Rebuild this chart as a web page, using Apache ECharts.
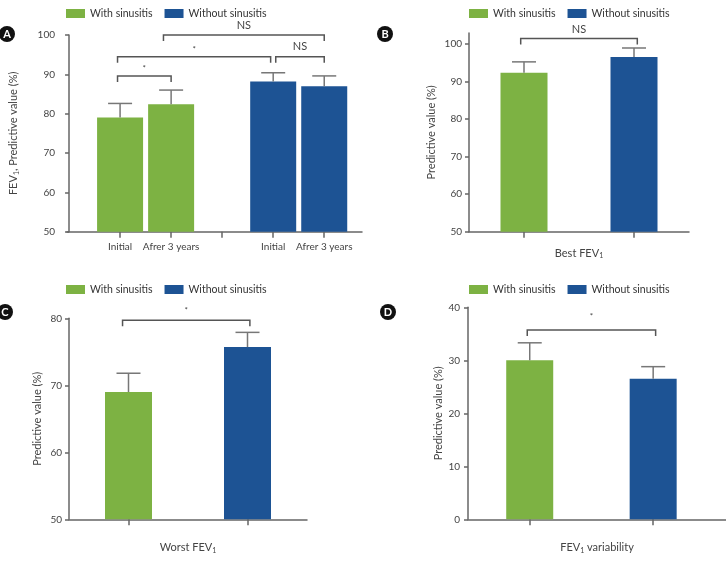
<!DOCTYPE html>
<html>
<head>
<meta charset="utf-8">
<script src="https://cdn.jsdelivr.net/npm/echarts@6/dist/echarts.min.js"></script>
<style>
  html, body { margin: 0; padding: 0; background: #fff; }
  #chart { width: 726px; height: 561px; }
</style>
</head>
<body>
<div id="chart"></div>
<script>
const seriesNames = ['With sinusitis', 'Without sinusitis'];

// panel A: FEV1 initial vs after 3 years
const aTickLabels = ['Initial', 'Afrer 3 years', '', 'Initial', 'Afrer 3 years'];
const aWithPos = [1, 2];
const aWithMean = [79.0, 82.4];
const aWithUpper = [82.6, 86.0];
const aWithoutPos = [4, 5];
const aWithoutMean = [88.2, 87.0];
const aWithoutUpper = [90.4, 89.6];
// [from, to, height, label]
const aBrackets = [[0.95, 2, 89.6, '*'], [0.95, 3.95, 94.5, '*'], [4.05, 5, 94.5, 'NS'], [1.85, 5, 100, 'NS']];

// panel B: best FEV1
const bWithMean = [92.4];
const bWithUpper = [95.3];
const bWithoutMean = [96.6];
const bWithoutUpper = [99.0];
const bBrackets = [[0.97, 2.03, 101.5, 'NS']];

// panel C: worst FEV1
const cWithMean = [69.0];
const cWithUpper = [71.8];
const cWithoutMean = [75.7];
const cWithoutUpper = [77.9];
const cBrackets = [[0.95, 2.02, 79.7, '*']];

// panel D: FEV1 variability
const dWithMean = [30.0];
const dWithUpper = [33.3];
const dWithoutMean = [26.5];
const dWithoutUpper = [28.8];
const dBrackets = [[0.98, 2.02, 35.7, '*']];

const GREEN = '#7db243';
const BLUE = '#1d5394';
const AXIS = '#666';
const TXT = '#444';
const FONT = 'Lato, "Liberation Sans", sans-serif';

const chart = echarts.init(document.getElementById('chart'));

const subRich = {
  a: { fontSize: 11, color: TXT, fontFamily: FONT },
  s: { fontSize: 7, color: TXT, fontFamily: FONT, verticalAlign: 'bottom', padding: [6, 0, 0, 0] }
};

function zip(xs, ys) { return xs.map((x, i) => [x, ys[i]]); }

function barSeries(name, idx, color, pos, vals, width) {
  return {
    type: 'bar', name: name, xAxisIndex: idx, yAxisIndex: idx,
    barWidth: width, barGap: '-100%',
    itemStyle: { color: color },
    data: zip(pos, vals)
  };
}

function errSeries(idx, pos, means, uppers) {
  return {
    type: 'custom', xAxisIndex: idx, yAxisIndex: idx, z: 5, silent: true,
    data: pos.map((x, i) => [x, means[i], uppers[i]]),
    encode: { x: 0, y: [1, 2] },
    renderItem: (params, api) => {
      const p0 = api.coord([api.value(0), api.value(1)]);
      const p1 = api.coord([api.value(0), api.value(2)]);
      const st = { stroke: '#777', lineWidth: 1.5 };
      return { type: 'group', children: [
        { type: 'line', shape: { x1: p0[0], y1: p0[1], x2: p1[0], y2: p1[1] }, style: st },
        { type: 'line', shape: { x1: p1[0] - 12, y1: p1[1], x2: p1[0] + 12, y2: p1[1] }, style: st }
      ]};
    }
  };
}

function bracketSeries(idx, list, gap) {
  return {
    type: 'custom', xAxisIndex: idx, yAxisIndex: idx, z: 6, silent: true, clip: false,
    data: list.map(b => [b[0], b[1], b[2]]),
    encode: { x: [0, 1], y: 2 },
    renderItem: (params, api) => {
      const lbl = list[params.dataIndex][3];
      const a = api.coord([api.value(0), api.value(2)]);
      const b = api.coord([api.value(1), api.value(2)]);
      return { type: 'group', children: [
        { type: 'polyline',
          shape: { points: [[a[0], a[1] + 6], [a[0], a[1]], [b[0], b[1]], [b[0], b[1] + 6]] },
          style: { stroke: '#555', lineWidth: 1.5, fill: null } },
        { type: 'text', x: (a[0] + b[0]) / 2, y: a[1] - (lbl === '*' ? gap - 3 : gap),
          style: { text: lbl, fill: TXT, fontSize: lbl === '*' ? 8 : 11, fontFamily: FONT,
                   align: 'center', verticalAlign: 'middle' } }
      ]};
    }
  };
}

function xAxis(idx, min, max, ticks, labels, labelFn, name, nameGap) {
  return {
    type: 'value', gridIndex: idx, min: min, max: max,
    splitLine: { show: false },
    axisLine: { lineStyle: { color: AXIS, width: 1.5 } },
    axisTick: { show: true, length: 6, lineStyle: { color: AXIS, width: 1.5 }, customValues: ticks },
    axisLabel: { show: true, customValues: labels, formatter: labelFn, color: TXT, fontSize: 10,
                 fontFamily: FONT, margin: 10 },
    name: name, nameLocation: 'middle', nameGap: nameGap,
    nameTextStyle: { rich: subRich }
  };
}

function yAxis(idx, min, max, ticks, name, nameGap, margin) {
  return {
    type: 'value', gridIndex: idx, min: min, max: max,
    splitLine: { show: false },
    axisLine: { show: true, lineStyle: { color: AXIS, width: 1.5 } },
    axisTick: { show: true, length: 4, lineStyle: { color: AXIS, width: 1.5 }, customValues: ticks },
    axisLabel: { customValues: ticks, color: TXT, fontSize: 10, fontFamily: FONT, margin: margin },
    name: name, nameLocation: 'middle', nameGap: nameGap,
    nameTextStyle: { rich: subRich }
  };
}

function legend(left, top) {
  return {
    data: seriesNames, left: left, top: top, icon: 'rect', padding: 0,
    itemWidth: 19, itemHeight: 9, itemGap: 12, selectedMode: false,
    textStyle: { color: '#333', fontSize: 10.5, fontFamily: FONT }
  };
}

function panelLetter(letter, cx, cy) {
  return { type: 'group', children: [
    { type: 'circle', shape: { cx: cx, cy: cy, r: 8 }, style: { fill: '#111' } },
    { type: 'text', x: cx, y: cy + 0.5, style: { text: letter, fill: '#fff', fontSize: 11, fontWeight: 'bold',
      fontFamily: FONT, align: 'center', verticalAlign: 'middle' } }
  ]};
}

const aLabelAt = v => aTickLabels[Math.round(v) - 1] || '';

const option = {
  animation: false,
  backgroundColor: '#fff',
  legend: [legend(66, 8), legend(469, 8), legend(66, 284), legend(469, 284)],
  grid: [
    { left: 67, width: 295, top: 35, height: 196.7 },
    { left: 469, width: 220, top: 33, height: 198.7 },
    { left: 69, width: 238, top: 318.3, height: 201 },
    { left: 468, width: 258, top: 307.3, height: 212 }
  ],
  xAxis: [
    xAxis(0, -0.04, 5.74, [1, 2, 3, 4, 5], [1, 2, 4, 5], aLabelAt, '', 0),
    xAxis(1, 0.5, 2.5, [1, 2], [], null, '{a|Best FEV}{s|1}', 15),
    xAxis(2, 0.5, 2.5, [1, 2], [], null, '{a|Worst FEV}{s|1}', 22),
    xAxis(3, 0.5, 2.59, [1, 2], [], null, '{a|FEV}{s|1}{a| variability}', 22)
  ],
  yAxis: [
    yAxis(0, 50, 100, [50, 60, 70, 80, 90, 100], '{a|FEV}{s|1}{a|, Predictive value (%)}', 47, 12),
    yAxis(1, 50, 103, [50, 60, 70, 80, 90, 100], '{a|Predictive value (%)}', 32, 7),
    yAxis(2, 50, 80, [50, 60, 70, 80], '{a|Predictive value (%)}', 26, 7),
    yAxis(3, 0, 40, [0, 10, 20, 30, 40], '{a|Predictive value (%)}', 24, 8)
  ],
  series: [
    barSeries(seriesNames[0], 0, GREEN, aWithPos, aWithMean, 46),
    barSeries(seriesNames[1], 0, BLUE, aWithoutPos, aWithoutMean, 46),
    errSeries(0, aWithPos, aWithMean, aWithUpper),
    errSeries(0, aWithoutPos, aWithoutMean, aWithoutUpper),
    bracketSeries(0, aBrackets, 10),

    barSeries(seriesNames[0], 1, GREEN, [1], bWithMean, 47),
    barSeries(seriesNames[1], 1, BLUE, [2], bWithoutMean, 47),
    errSeries(1, [1], bWithMean, bWithUpper),
    errSeries(1, [2], bWithoutMean, bWithoutUpper),
    bracketSeries(1, bBrackets, 9),

    barSeries(seriesNames[0], 2, GREEN, [1], cWithMean, 47),
    barSeries(seriesNames[1], 2, BLUE, [2], cWithoutMean, 47),
    errSeries(2, [1], cWithMean, cWithUpper),
    errSeries(2, [2], cWithoutMean, cWithoutUpper),
    bracketSeries(2, cBrackets, 13),

    barSeries(seriesNames[0], 3, GREEN, [1], dWithMean, 47),
    barSeries(seriesNames[1], 3, BLUE, [2], dWithoutMean, 47),
    errSeries(3, [1], dWithMean, dWithUpper),
    errSeries(3, [2], dWithoutMean, dWithoutUpper),
    bracketSeries(3, dBrackets, 17)
  ],
  graphic: [
    panelLetter('A', 7, 34),
    panelLetter('B', 385, 34),
    panelLetter('C', 5, 312),
    panelLetter('D', 388, 312)
  ]
};

chart.setOption(option);
</script>
</body>
</html>
